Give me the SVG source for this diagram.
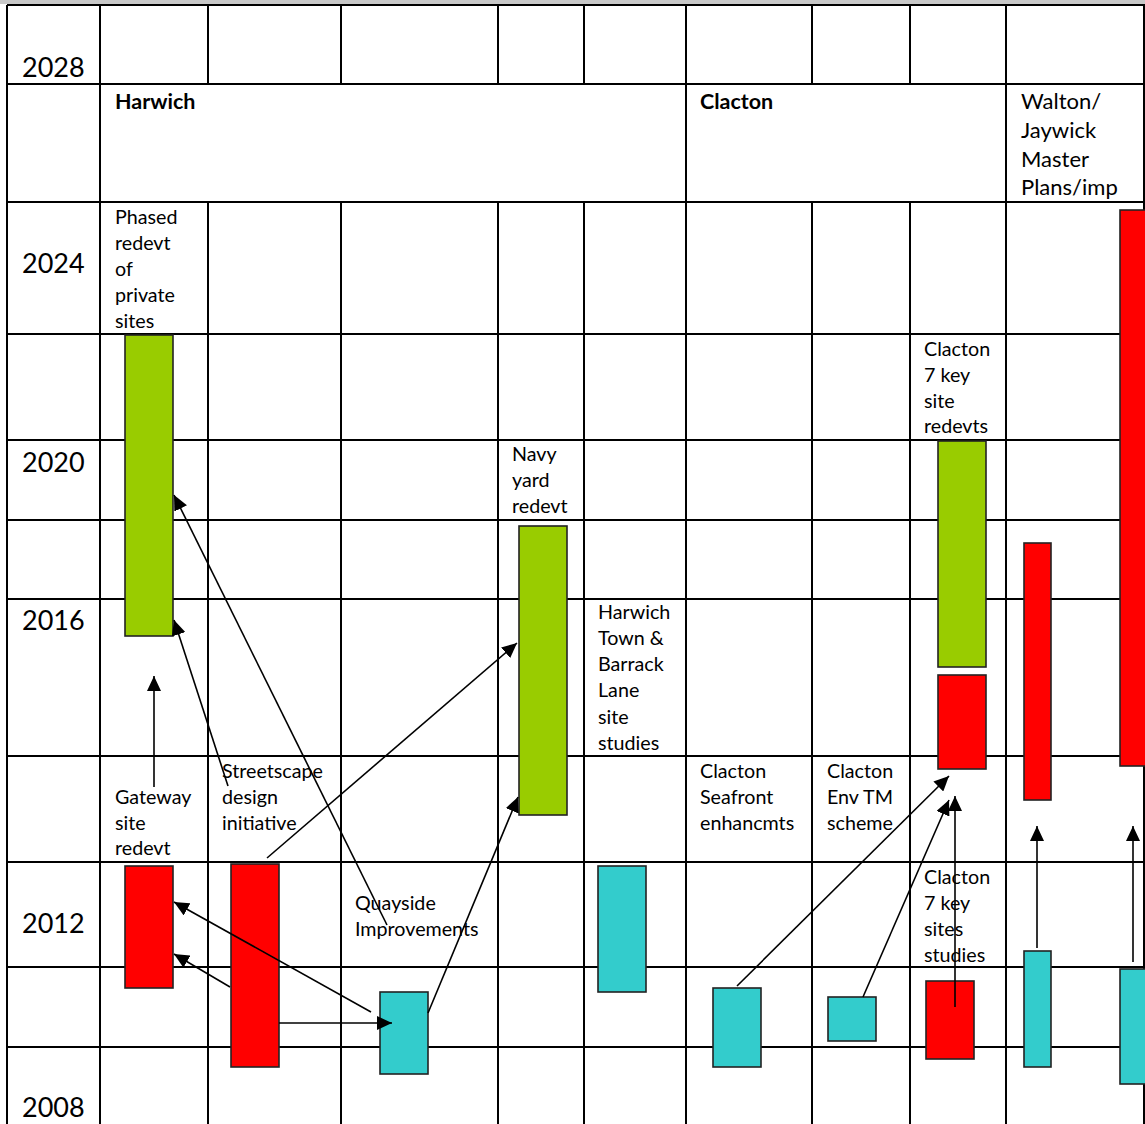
<svg xmlns="http://www.w3.org/2000/svg" width="1145" height="1124" viewBox="0 0 1145 1124">
<style>
.g{stroke:#000;stroke-width:2;fill:none}
.yr{font-family:Lato,"Open Sans",sans-serif;font-size:27px;fill:#000}
.lb{font-family:Lato,"Open Sans",sans-serif;font-size:19.7px;fill:#000}
.hd{font-family:Lato,"Open Sans",sans-serif;font-size:21.5px;font-weight:bold;fill:#000}
.wl{font-family:Lato,"Open Sans",sans-serif;font-size:22px;fill:#000}
.gr{fill:#99CC00;stroke:#222;stroke-width:1.6}
.rd{fill:#FF0000;stroke:#222;stroke-width:1.6}
.cy{fill:#33CCCC;stroke:#222;stroke-width:1.6}
.c{stroke:#000;stroke-width:1.6;fill:none;marker-end:url(#ah)}
</style>
<defs>
<marker id="ah" markerUnits="userSpaceOnUse" markerWidth="16" markerHeight="14" refX="15" refY="7" orient="auto">
<path d="M0,0 L15,7 L0,14 z" fill="#000"/>
</marker>
</defs>
<rect x="0" y="0" width="1145" height="1124" fill="#fff"/>
<rect x="0" y="0" width="1145" height="4" fill="#c8c8c8"/>
<g id="grid">
<path class="g" d="M7,5V1124M100,5V1124M686,5V1124M1006,5V1124M1144,5V1124"/>
<path class="g" d="M208,5V84M208,202V1124M341,5V84M341,202V1124M498,5V84M498,202V1124M584,5V84M584,202V1124M812,5V84M812,202V1124M910,5V84M910,202V1124"/>
<path class="g" d="M7,5H1145M7,84H1145M7,202H1145M7,334H1145M7,440H1145M7,520H1145M7,599H1145M7,756H1145M7,862H1145M7,967H1145M7,1047H1145"/>
</g>
<g id="years">
<text class="yr" x="22" y="77">2028</text>
<text class="yr" x="22" y="273">2024</text>
<text class="yr" x="22" y="472">2020</text>
<text class="yr" x="22" y="630">2016</text>
<text class="yr" x="22" y="933">2012</text>
<text class="yr" x="22" y="1117">2008</text>
</g>
<g id="headers">
<text class="hd" x="115" y="109">Harwich</text>
<text class="hd" x="700" y="109">Clacton</text>
<text class="wl" x="1021" y="109">Walton/</text>
<text class="wl" x="1021" y="138">Jaywick</text>
<text class="wl" x="1021" y="167">Master</text>
<text class="wl" x="1021" y="195">Plans/imp</text>
</g>
<g id="phased">
<text class="lb" x="115" y="224">Phased</text>
<text class="lb" x="115" y="250">redevt</text>
<text class="lb" x="115" y="276">of</text>
<text class="lb" x="115" y="302">private</text>
<text class="lb" x="115" y="328">sites</text>
<rect class="gr" x="125" y="335" width="48" height="301"/>
</g>
<g id="navy">
<text class="lb" x="512" y="461">Navy</text>
<text class="lb" x="512" y="487">yard</text>
<text class="lb" x="512" y="513">redevt</text>
<rect class="gr" x="519" y="526" width="48" height="289"/>
</g>
<g id="harwich-town">
<text class="lb" x="598" y="619">Harwich</text>
<text class="lb" x="598" y="645">Town &amp;</text>
<text class="lb" x="598" y="671">Barrack</text>
<text class="lb" x="598" y="697">Lane</text>
<text class="lb" x="598" y="724">site</text>
<text class="lb" x="598" y="750">studies</text>
<rect class="cy" x="598" y="866" width="48" height="126"/>
</g>
<g id="clacton-redevts">
<text class="lb" x="924" y="356">Clacton</text>
<text class="lb" x="924" y="382">7 key</text>
<text class="lb" x="924" y="408">site</text>
<text class="lb" x="924" y="433">redevts</text>
<rect class="gr" x="938" y="441" width="48" height="226"/>
<rect class="rd" x="938" y="675" width="48" height="94"/>
</g>
<g id="walton-bars">
<rect class="rd" x="1024" y="543" width="27" height="257"/>
<rect class="rd" x="1120" y="210" width="30" height="556"/>
</g>
<g id="gateway">
<text class="lb" x="115" y="804">Gateway</text>
<text class="lb" x="115" y="830">site</text>
<text class="lb" x="115" y="855">redevt</text>
<rect class="rd" x="125" y="866" width="48" height="122"/>
</g>
<g id="streetscape">
<text class="lb" x="222" y="778">Streetscape</text>
<text class="lb" x="222" y="804">design</text>
<text class="lb" x="222" y="830">initiative</text>
<rect class="rd" x="231" y="864" width="48" height="203"/>
</g>
<g id="quayside">
<text class="lb" x="355" y="910">Quayside</text>
<text class="lb" x="355" y="936">Improvements</text>
<rect class="cy" x="380" y="992" width="48" height="82"/>
</g>
<g id="seafront">
<text class="lb" x="700" y="778">Clacton</text>
<text class="lb" x="700" y="804">Seafront</text>
<text class="lb" x="700" y="830">enhancmts</text>
<rect class="cy" x="713" y="988" width="48" height="79"/>
</g>
<g id="envtm">
<text class="lb" x="827" y="778">Clacton</text>
<text class="lb" x="827" y="804">Env TM</text>
<text class="lb" x="827" y="830">scheme</text>
<rect class="cy" x="828" y="997" width="48" height="44"/>
</g>
<g id="clacton-studies">
<text class="lb" x="924" y="884">Clacton</text>
<text class="lb" x="924" y="910">7 key</text>
<text class="lb" x="924" y="936">sites</text>
<text class="lb" x="924" y="962">studies</text>
<rect class="rd" x="926" y="981" width="48" height="78"/>
</g>
<g id="walton-studies">
<rect class="cy" x="1024" y="951" width="27" height="116"/>
<rect class="cy" x="1120" y="969" width="30" height="115"/>
</g>
<g id="connectors">
<path class="c" d="M154,787L154,676"/>
<path class="c" d="M228,786L174,620"/>
<path class="c" d="M387,925L174,495"/>
<path class="c" d="M267,858L517,643"/>
<path class="c" d="M428,1013L518,797"/>
<path class="c" d="M371,1012L174,902"/>
<path class="c" d="M230,987L174,954"/>
<path class="c" d="M279,1023L392,1023"/>
<path class="c" d="M737,986L949,776"/>
<path class="c" d="M863,997L949,800"/>
<path class="c" d="M955,1007L955,796"/>
<path class="c" d="M1037,948L1037,826"/>
<path class="c" d="M1133,962L1133,826"/>
</g>
</svg>
